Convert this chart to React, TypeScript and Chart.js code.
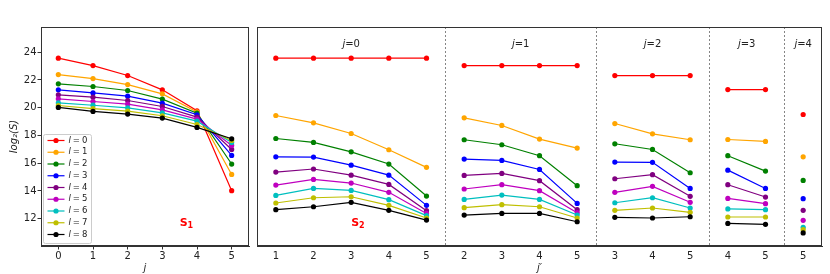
import React, { useEffect, useRef } from "react";
import { Chart, registerables } from "chart.js";
Chart.register(...registerables);

// ---------- data ----------
const L_VALUES = [0, 1, 2, 3, 4, 5, 6, 7, 8];
const COLORS = ["#ff0000", "#ffa500", "#008000", "#0000ff", "#800080", "#bf00bf", "#00bfbf", "#bfbf00", "#000000"];
const J_VALUES = [0, 1, 2, 3, 4, 5];
const Y_TICKS = [12, 14, 16, 18, 20, 22, 24];
const Y_MIN = 10.03;
const Y_MAX = 25.82;

// S1: rows l = 0..8, columns j = 0..5
const S1: number[][] = [
  [23.57, 23.04, 22.32, 21.29, 19.78, 14.02],
  [22.39, 22.1, 21.67, 21.0, 19.7, 15.19],
  [21.72, 21.53, 21.24, 20.62, 19.61, 15.94],
  [21.29, 21.07, 20.83, 20.33, 19.49, 16.56],
  [20.93, 20.76, 20.52, 20.09, 19.32, 16.99],
  [20.64, 20.45, 20.26, 19.85, 19.18, 17.28],
  [20.35, 20.18, 19.99, 19.63, 19.03, 17.5],
  [20.16, 19.94, 19.75, 19.42, 18.79, 17.64],
  [20.02, 19.73, 19.54, 19.25, 18.58, 17.76],
];

// S2, one block per j; rows l = 0..8, columns j' = j+1..5
const S2_J0: number[][] = [
  [23.57, 23.57, 23.57, 23.57, 23.57],
  [19.44, 18.91, 18.14, 16.97, 15.7],
  [17.78, 17.5, 16.82, 15.94, 13.63],
  [16.46, 16.44, 15.86, 15.14, 12.96],
  [15.36, 15.58, 15.14, 14.47, 12.58],
  [14.42, 14.83, 14.57, 13.9, 12.38],
  [13.68, 14.18, 14.04, 13.37, 12.22],
  [13.13, 13.51, 13.58, 12.96, 12.05],
  [12.65, 12.86, 13.18, 12.6, 11.9],
];
const S2_J1: number[][] = [
  [23.04, 23.04, 23.04, 23.04],
  [19.27, 18.72, 17.74, 17.09],
  [17.69, 17.33, 16.54, 14.38],
  [16.3, 16.2, 15.55, 13.1],
  [15.12, 15.26, 14.74, 12.65],
  [14.14, 14.45, 14.02, 12.43],
  [13.39, 13.7, 13.39, 12.26],
  [12.79, 13.01, 12.86, 12.05],
  [12.26, 12.38, 12.38, 11.78],
];
const S2_J2: number[][] = [
  [22.32, 22.32, 22.32],
  [18.86, 18.12, 17.69],
  [17.4, 16.99, 15.31],
  [16.08, 16.06, 14.18],
  [14.88, 15.17, 13.61],
  [13.9, 14.33, 13.18],
  [13.15, 13.51, 12.77],
  [12.6, 12.77, 12.46],
  [12.1, 12.05, 12.14],
];
const S2_J3: number[][] = [
  [21.31, 21.31],
  [17.71, 17.57],
  [16.54, 15.43],
  [15.5, 14.18],
  [14.45, 13.56],
  [13.46, 13.08],
  [12.7, 12.65],
  [12.12, 12.12],
  [11.66, 11.59],
];
const S2_J4: number[][] = [[19.51], [16.46], [14.76], [13.44], [12.6], [11.88], [11.38], [11.21], [10.97]];

const S2_BLOCKS = [S2_J0, S2_J1, S2_J2, S2_J3, S2_J4];
const LAST_J = 5;

// derived positions on the right-hand axis
const SEG_STARTS: number[] = [];
const JP_LABELS: string[] = [];
{
  let pos = 0;
  S2_BLOCKS.forEach((blk, j) => {
    SEG_STARTS.push(pos);
    for (let k = 0; k < blk[0].length; k++) JP_LABELS.push(String(j + 1 + k));
    pos += blk[0].length;
  });
}
const N_RIGHT = JP_LABELS.length;

const FONT = '"DejaVu Sans", sans-serif';
Chart.defaults.font.family = FONT;

function drawSubLabel(ctx: CanvasRenderingContext2D, x: number, y: number, main: string, sub: string) {
  ctx.save();
  ctx.fillStyle = "#ff0000";
  ctx.textBaseline = "alphabetic";
  ctx.textAlign = "left";
  ctx.font = `bold 11px ${FONT}`;
  ctx.fillText(main, x, y);
  const w = ctx.measureText(main).width;
  ctx.font = `bold 8px ${FONT}`;
  ctx.fillText(sub, x + w, y + 2.5);
  ctx.restore();
}

const leftPlugin = {
  id: "leftDecor",
  afterDraw(chart: any) {
    const { ctx, chartArea: ca, scales } = chart;
    ctx.save();
    ctx.strokeStyle = "#333";
    ctx.lineWidth = 1;
    ctx.strokeRect(ca.left + 0.5, ca.top + 0.5, ca.right - ca.left - 1, ca.bottom - ca.top - 1);

    // legend
    const lx = ca.left + 2.5, ly = ca.top + 107.5, lw = 48, lh = 109;
    ctx.beginPath();
    (ctx as any).roundRect(lx, ly, lw, lh, 2);
    ctx.fillStyle = "rgba(255,255,255,0.8)";
    ctx.fill();
    ctx.strokeStyle = "#cccccc";
    ctx.lineWidth = 1;
    ctx.stroke();
    L_VALUES.forEach((l, i) => {
      const y = ly + 6 + i * 11.75;
      ctx.strokeStyle = COLORS[i];
      ctx.lineWidth = 1.2;
      ctx.beginPath();
      ctx.moveTo(lx + 4, y);
      ctx.lineTo(lx + 21, y);
      ctx.stroke();
      ctx.fillStyle = COLORS[i];
      ctx.beginPath();
      ctx.arc(lx + 12.5, y, 2.6, 0, Math.PI * 2);
      ctx.fill();
      ctx.fillStyle = "#222";
      ctx.textBaseline = "middle";
      ctx.textAlign = "left";
      let tx = lx + 25;
      ctx.font = `italic 8.5px ${FONT}`;
      ctx.fillText("l", tx, y);
      tx += ctx.measureText("l").width + 2;
      ctx.font = `8.5px ${FONT}`;
      ctx.fillText("=", tx, y);
      tx += ctx.measureText("=").width + 2;
      ctx.fillText(String(l), tx, y);
    });
    ctx.restore();

    drawSubLabel(ctx, scales.x.getPixelForValue(3.5), scales.y.getPixelForValue(11.5), "S", "1");
  },
};

const rightPlugin = {
  id: "rightDecor",
  afterDraw(chart: any) {
    const { ctx, chartArea: ca, scales } = chart;
    ctx.save();
    // separators
    ctx.strokeStyle = "#666";
    ctx.lineWidth = 0.8;
    ctx.setLineDash([2, 2]);
    SEG_STARTS.forEach((s, i) => {
      if (i === 0) return;
      const x = Math.round(scales.x.getPixelForValue(s - 0.5)) + 0.5;
      ctx.beginPath();
      ctx.moveTo(x, ca.top);
      ctx.lineTo(x, ca.bottom);
      ctx.stroke();
    });
    ctx.setLineDash([]);
    ctx.strokeStyle = "#333";
    ctx.lineWidth = 1;
    ctx.strokeRect(ca.left + 0.5, ca.top + 0.5, ca.right - ca.left - 1, ca.bottom - ca.top - 1);

    // segment labels
    ctx.fillStyle = "#222";
    ctx.textBaseline = "middle";
    S2_BLOCKS.forEach((blk, j) => {
      const cx = scales.x.getPixelForValue(SEG_STARTS[j] + (blk[0].length - 1) / 2);
      ctx.font = `italic 10px ${FONT}`;
      const w1 = ctx.measureText("j").width;
      ctx.font = `10px ${FONT}`;
      const rest = "=" + j;
      const w2 = ctx.measureText(rest).width;
      const x0 = cx - (w1 + w2) / 2;
      ctx.textAlign = "left";
      ctx.font = `italic 10px ${FONT}`;
      ctx.fillText("j", x0, ca.top + 17);
      ctx.font = `10px ${FONT}`;
      ctx.fillText(rest, x0 + w1, ca.top + 17);
    });
    ctx.restore();

    drawSubLabel(ctx, scales.x.getPixelForValue(2), scales.y.getPixelForValue(11.5), "S", "2");
  },
};

const tickFont = { size: 10, family: FONT };

export default function App() {
  const leftRef = useRef<HTMLCanvasElement | null>(null);
  const rightRef = useRef<HTMLCanvasElement | null>(null);

  useEffect(() => {
    const leftDatasets = L_VALUES.map((l, i) => ({
      label: `l = ${l}`,
      data: S1[i].map((y, k) => ({ x: J_VALUES[k], y })),
      borderColor: COLORS[i],
      backgroundColor: COLORS[i],
      borderWidth: 1.2,
      pointRadius: 2.6,
      pointBorderWidth: 0,
      pointHoverRadius: 2.6,
      order: 8 - i,
    }));

    const rightDatasets = L_VALUES.map((l, i) => {
      const pts: any[] = [];
      S2_BLOCKS.forEach((blk, j) => {
        blk[i].forEach((y, k) => pts.push({ x: SEG_STARTS[j] + k, y }));
        pts.push({ x: SEG_STARTS[j] + blk[i].length - 0.5, y: null });
      });
      return {
        label: `l = ${l}`,
        data: pts,
        borderColor: COLORS[i],
        backgroundColor: COLORS[i],
        borderWidth: 1.2,
        pointRadius: 2.6,
        pointBorderWidth: 0,
        pointHoverRadius: 2.6,
        spanGaps: false,
        order: 8 - i,
      };
    });

    const left = new Chart(leftRef.current as HTMLCanvasElement, {
      type: "line",
      data: { datasets: leftDatasets as any },
      options: {
        animation: false,
        responsive: false,
        layout: { padding: { top: 27, right: 3, left: 0, bottom: 0 } },
        plugins: { legend: { display: false }, tooltip: { enabled: false } },
        scales: {
          x: {
            type: "linear",
            min: -0.5,
            max: 5.5,
            afterBuildTicks: (s: any) => {
              s.ticks = J_VALUES.map((v) => ({ value: v }));
            },
            afterFit: (s: any) => {
              s.height = 28;
            },
            grid: { drawOnChartArea: false, drawTicks: true, tickLength: 3.5, color: "#333", tickColor: "#333" },
            border: { display: true, color: "#333", width: 1 },
            ticks: { font: tickFont, color: "#222", padding: 1, maxRotation: 0, autoSkip: false, callback: (v: any) => String(v) },
            title: { display: true, text: "j", font: { size: 10, style: "italic", family: FONT }, color: "#222", padding: { top: 0, bottom: 0 } },
          },
          y: {
            type: "linear",
            min: Y_MIN,
            max: Y_MAX,
            afterBuildTicks: (s: any) => {
              s.ticks = Y_TICKS.map((v) => ({ value: v }));
            },
            afterFit: (s: any) => {
              s.width = 41;
            },
            grid: { drawOnChartArea: false, drawTicks: true, tickLength: 3.5, color: "#333", tickColor: "#333" },
            border: { display: true, color: "#333", width: 1 },
            ticks: { font: tickFont, color: "#222", padding: 1, callback: (v: any) => String(v) },
            title: { display: true, text: "log₂(S)", font: { size: 10, style: "italic", family: FONT }, color: "#222", padding: { top: 8, bottom: 0 } },
          },
        },
      },
      plugins: [leftPlugin],
    });

    const right = new Chart(rightRef.current as HTMLCanvasElement, {
      type: "line",
      data: { datasets: rightDatasets as any },
      options: {
        animation: false,
        responsive: false,
        layout: { padding: { top: 27, right: 8, left: 5, bottom: 0 } },
        plugins: { legend: { display: false }, tooltip: { enabled: false } },
        scales: {
          x: {
            type: "linear",
            min: -0.5,
            max: N_RIGHT - 0.5,
            afterBuildTicks: (s: any) => {
              s.ticks = JP_LABELS.map((_, k) => ({ value: k }));
            },
            afterFit: (s: any) => {
              s.height = 28;
            },
            grid: { drawOnChartArea: false, drawTicks: true, tickLength: 3.5, color: "#333", tickColor: "rgba(0,0,0,0)" },
            border: { display: true, color: "#333", width: 1 },
            ticks: { font: tickFont, color: "#222", padding: 1, maxRotation: 0, autoSkip: false, callback: (v: any) => JP_LABELS[Math.round(v)] ?? "" },
            title: { display: true, text: "j′", font: { size: 10, style: "italic", family: FONT }, color: "#222", padding: { top: 0, bottom: 0 } },
          },
          y: {
            type: "linear",
            display: false,
            min: Y_MIN,
            max: Y_MAX,
          },
        },
      },
      plugins: [rightPlugin],
    });

    return () => {
      left.destroy();
      right.destroy();
    };
  }, []);

  return (
    <div style={{ position: "fixed", left: 0, top: 0, width: 830, height: 274, background: "#fff" }}>
      <canvas ref={leftRef} width={252} height={274} style={{ position: "absolute", left: 0, top: 0 }} />
      <canvas ref={rightRef} width={578} height={274} style={{ position: "absolute", left: 252, top: 0 }} />
    </div>
  );
}
